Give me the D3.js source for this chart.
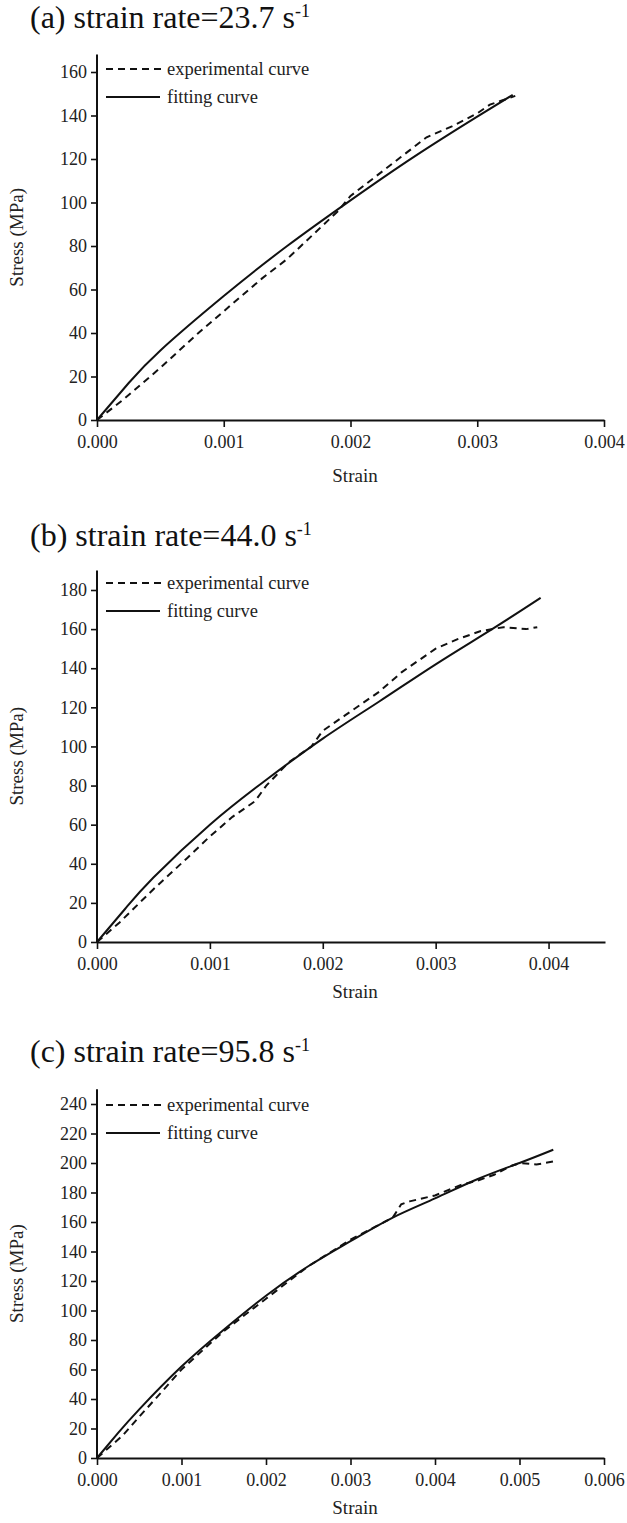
<!DOCTYPE html>
<html>
<head>
<meta charset="utf-8">
<script src="https://cdn.jsdelivr.net/npm/d3@7"></script>
<style>
  body { margin: 0; background: #fff; }
</style>
</head>
<body>
<svg id="chart" width="627" height="1523"></svg>
<script>
// panel (a) 23.7 /s
var strainExpA = [0, 0.0002, 0.0005, 0.0008, 0.001, 0.0013, 0.0015, 0.0017, 0.0019, 0.002, 0.0022, 0.0024, 0.0026, 0.0028, 0.003, 0.0031, 0.0032, 0.0033];
var stressExpA = [0, 9, 24, 40, 50, 65, 74, 85, 96, 103, 112, 121, 130, 135, 141, 145, 147, 149];
var strainFitA = [0, 0.00025, 0.0005, 0.001, 0.0015, 0.002, 0.0025, 0.003, 0.00328];
var stressFitA = [0, 17, 32, 57, 80, 101, 121, 139.5, 149.5];

// panel (b) 44.0 /s
var strainExpB = [0, 0.0002, 0.0005, 0.0008, 0.001, 0.0012, 0.0014, 0.0015, 0.0017, 0.0019, 0.002, 0.0022, 0.0025, 0.0027, 0.003, 0.0032, 0.0034, 0.0036, 0.0038, 0.0039];
var stressExpB = [0, 10, 27, 43, 54, 64, 72, 80, 92, 100, 108, 116, 128, 138, 150, 155, 159, 161, 160, 161];
var strainFitB = [0, 0.00025, 0.0005, 0.001, 0.0015, 0.002, 0.0025, 0.003, 0.0035, 0.00393];
var stressFitB = [0, 17, 33, 60, 83, 104, 123, 142, 160, 176];

// panel (c) 95.8 /s
var strainExpC = [0, 0.0003, 0.0005, 0.0008, 0.001, 0.0015, 0.002, 0.0025, 0.003, 0.0033, 0.0035, 0.0036, 0.0037, 0.004, 0.0043, 0.0045, 0.0047, 0.0049, 0.005, 0.0052, 0.0054];
var stressExpC = [0, 15, 28, 47, 60, 86, 108, 130, 148, 157, 163, 172, 174, 178, 185, 188, 192, 198, 200, 199, 201];
var strainFitC = [0, 0.00025, 0.0005, 0.001, 0.0015, 0.002, 0.0025, 0.003, 0.0035, 0.004, 0.0045, 0.005, 0.0054];
var stressFitC = [0, 17, 33, 62, 87, 110, 130, 147, 163, 176, 189, 200, 209];

var titles = ["(a) strain rate=23.7 s", "(b) strain rate=44.0 s", "(c) strain rate=95.8 s"];
var legendLabels = ["experimental curve", "fitting curve"];
var xTicksA = [0, 0.001, 0.002, 0.003, 0.004];
var xTicksB = [0, 0.001, 0.002, 0.003, 0.004];
var xTicksC = [0, 0.001, 0.002, 0.003, 0.004, 0.005, 0.006];

var svg = d3.select("#chart");
var serif = "'Liberation Serif', 'Times New Roman', serif";

function zip(xs, ys) {
  return xs.map(function (x, i) { return [x, ys[i]]; });
}

// one stress-strain panel
function drawPanel(opt) {
  var x = d3.scaleLinear().domain([0, opt.xMax]).range([97, opt.xRight]);
  var y = d3.scaleLinear().domain([0, opt.yTickMax]).range([opt.yZero, opt.yTop]);
  var g = svg.append("g");

  g.append("text")
    .attr("x", 30).attr("y", opt.titleY)
    .style("font-family", serif).style("font-size", "32px").style("fill", "#111")
    .text(opt.title)
    .append("tspan")
    .attr("dy", -11).style("font-size", "18px").text("-1");

  var yAxis = d3.axisLeft(y).tickValues(d3.range(0, opt.yTickMax + 1, 20))
    .tickSize(6).tickSizeOuter(0).tickPadding(4);
  var ga = g.append("g").attr("transform", "translate(97,0)").call(yAxis);
  ga.select(".domain").remove();
  ga.selectAll("line").attr("stroke-width", 1.6).attr("stroke", "#111");
  ga.selectAll("text").style("font-family", serif).style("font-size", "18px").style("fill", "#222");
  g.append("line")
    .attr("x1", 97).attr("x2", 97)
    .attr("y1", y(0)).attr("y2", y(opt.yMax))
    .attr("stroke", "#111").attr("stroke-width", 2);

  var xAxis = d3.axisBottom(x).tickValues(opt.xTicks)
    .tickFormat(d3.format(".3f")).tickSize(7).tickSizeOuter(0).tickPadding(8);
  var gx = g.append("g").attr("transform", "translate(0," + y(0) + ")").call(xAxis);
  gx.select(".domain").attr("stroke-width", 2).attr("stroke", "#111");
  gx.selectAll("line").attr("stroke-width", 1.6).attr("stroke", "#111");
  gx.selectAll("text").style("font-family", serif).style("font-size", "18px").style("fill", "#222");

  g.append("text")
    .attr("transform", "translate(23," + ((y(0) + y(opt.yMax)) / 2) + ") rotate(-90)")
    .attr("text-anchor", "middle")
    .style("font-family", serif).style("font-size", "19px").style("fill", "#222")
    .text("Stress (MPa)");

  g.append("text")
    .attr("x", 355).attr("y", y(0) + opt.strainGap)
    .attr("text-anchor", "middle")
    .style("font-family", serif).style("font-size", "19px").style("fill", "#222")
    .text("Strain");

  var line = d3.line().x(function (d) { return x(d[0]); }).y(function (d) { return y(d[1]); });
  var fitLine = d3.line().curve(d3.curveNatural)
    .x(function (d) { return x(d[0]); }).y(function (d) { return y(d[1]); });

  g.append("path").datum(zip(opt.fitX, opt.fitY))
    .attr("d", fitLine).attr("fill", "none")
    .attr("stroke", "#111").attr("stroke-width", 2);
  g.append("path").datum(zip(opt.expX, opt.expY))
    .attr("d", line).attr("fill", "none")
    .attr("stroke", "#111").attr("stroke-width", 2)
    .attr("stroke-dasharray", "7,5");

  // legend
  var ly = opt.legendY;
  g.append("line").attr("x1", 106).attr("x2", 161).attr("y1", ly).attr("y2", ly)
    .attr("stroke", "#111").attr("stroke-width", 2).attr("stroke-dasharray", "7,5");
  g.append("line").attr("x1", 106).attr("x2", 160).attr("y1", ly + 28).attr("y2", ly + 28)
    .attr("stroke", "#111").attr("stroke-width", 2);
  g.append("text").attr("x", 167).attr("y", ly + 6)
    .style("font-family", serif).style("font-size", "18.5px").style("fill", "#222")
    .text(legendLabels[0]);
  g.append("text").attr("x", 167).attr("y", ly + 34)
    .style("font-family", serif).style("font-size", "18.5px").style("fill", "#222")
    .text(legendLabels[1]);
}

drawPanel({
  title: titles[0], titleY: 28,
  xMax: 0.004, xRight: 604, xTicks: xTicksA,
  yTickMax: 160, yMax: 168, yZero: 420, yTop: 72,
  strainGap: 62, legendY: 69,
  expX: strainExpA, expY: stressExpA, fitX: strainFitA, fitY: stressFitA
});

drawPanel({
  title: titles[1], titleY: 546,
  xMax: 0.0045, xRight: 605, xTicks: xTicksB,
  yTickMax: 180, yMax: 190, yZero: 942, yTop: 590,
  strainGap: 56, legendY: 583,
  expX: strainExpB, expY: stressExpB, fitX: strainFitB, fitY: stressFitB
});

drawPanel({
  title: titles[2], titleY: 1062,
  xMax: 0.006, xRight: 604, xTicks: xTicksC,
  yTickMax: 240, yMax: 250, yZero: 1458, yTop: 1104,
  strainGap: 56, legendY: 1105,
  expX: strainExpC, expY: stressExpC, fitX: strainFitC, fitY: stressFitC
});
</script>
</body>
</html>
